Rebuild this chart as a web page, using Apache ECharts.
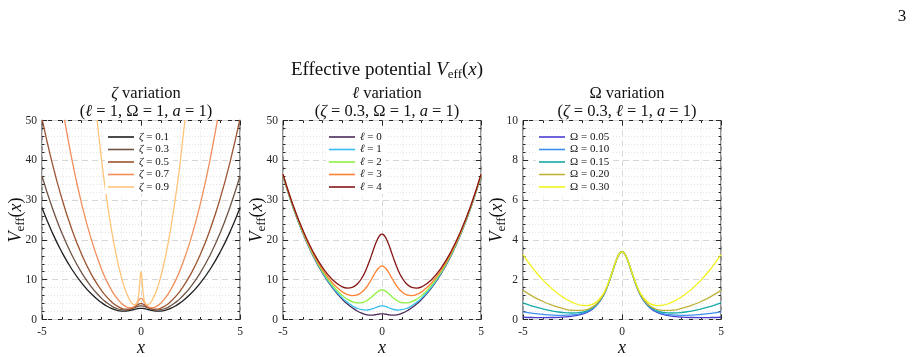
<!DOCTYPE html>
<html>
<head>
<meta charset="utf-8">
<script src="https://cdn.jsdelivr.net/npm/echarts@6/dist/echarts.min.js"></script>
<style>
  html, body { margin: 0; padding: 0; background: #fff; }
  #chart { width: 916px; height: 357px; }
</style>
</head>
<body>
<div id="chart"></div>
<script>
  // x samples shared by every curve
  var xs = [-5,-4.5,-4,-3.5,-3,-2.5,-2,-1.75,-1.5,-1.25,-1,-0.8,-0.6,-0.5,-0.4,-0.3,-0.2,-0.15,-0.1,-0.05,0,
            0.05,0.1,0.15,0.2,0.3,0.4,0.5,0.6,0.8,1,1.25,1.5,1.75,2,2.5,3,3.5,4,4.5,5];

  // panel 1 : zeta variation (l = 1, Omega = 1, a = 1)
  var zetaNames = ['ζ = 0.1', 'ζ = 0.3', 'ζ = 0.5', 'ζ = 0.7', 'ζ = 0.9'];
  var zeta01 = [28.06,22.04,16.95,12.69,9.19,6.39,4.26,3.44,2.80,2.35,2.12,2.09,2.21,2.32,2.45,2.58,2.69,2.74,2.77,2.79,2.80,2.79,2.77,2.74,2.69,2.58,2.45,2.32,2.21,2.09,2.12,2.35,2.80,3.44,4.26,6.39,9.19,12.69,16.95,22.04,28.06];
  var zeta03 = [36.07,28.32,21.76,16.28,11.77,8.15,5.37,4.30,3.44,2.82,2.46,2.38,2.51,2.65,2.83,3.03,3.23,3.31,3.38,3.42,3.43,3.42,3.38,3.31,3.23,3.03,2.83,2.65,2.51,2.38,2.46,2.82,3.44,4.30,5.37,8.15,11.77,16.28,21.76,28.32,36.07];
  var zeta05 = [50.46,39.61,30.42,22.73,16.39,11.28,7.33,5.77,4.50,3.52,2.87,2.61,2.63,2.75,2.96,3.24,3.58,3.74,3.88,3.97,4.00,3.97,3.88,3.74,3.58,3.24,2.96,2.75,2.63,2.61,2.87,3.52,4.50,5.77,7.33,11.28,16.39,22.73,30.42,39.61,50.46];
  var zeta07 = [90.06,70.66,54.24,40.47,29.11,19.93,12.75,9.88,7.48,5.55,4.12,3.36,2.98,2.97,3.10,3.45,4.06,4.47,4.88,5.21,5.33,5.21,4.88,4.47,4.06,3.45,3.10,2.97,2.98,3.36,4.12,5.55,7.48,9.88,12.75,19.93,29.11,40.47,54.24,70.66,90.06];
  var zeta09 = [291.65,228.78,175.51,130.85,93.94,64.01,40.46,30.93,22.82,16.12,10.80,7.54,5.18,4.37,3.83,3.69,4.30,5.25,7.07,10.02,12.00,10.02,7.07,5.25,4.30,3.69,3.83,4.37,5.18,7.54,10.80,16.12,22.82,30.93,40.46,64.01,93.94,130.85,175.51,228.78,291.65];

  // panel 2 : l variation (zeta = 0.3, Omega = 1, a = 1)
  var ellNames = ['ℓ = 0', 'ℓ = 1', 'ℓ = 2', 'ℓ = 3', 'ℓ = 4'];
  var ell0 = [36.02,28.26,21.69,16.18,11.63,7.94,5.06,3.90,2.93,2.14,1.56,1.25,1.10,1.10,1.14,1.22,1.32,1.36,1.40,1.42,1.43,1.42,1.40,1.36,1.32,1.22,1.14,1.10,1.10,1.25,1.56,2.14,2.93,3.90,5.06,7.94,11.63,16.18,21.69,28.26,36.02];
  var ell1 = [36.07,28.32,21.76,16.28,11.77,8.15,5.37,4.30,3.44,2.82,2.46,2.38,2.51,2.65,2.83,3.03,3.23,3.31,3.38,3.42,3.43,3.42,3.38,3.31,3.23,3.03,2.83,2.65,2.51,2.38,2.46,2.82,3.44,4.30,5.37,8.15,11.77,16.28,21.76,28.32,36.07];
  var ell2 = [36.16,28.44,21.92,16.48,12.05,8.56,6.00,5.10,4.47,4.17,4.26,4.64,5.32,5.74,6.20,6.66,7.05,7.21,7.33,7.41,7.43,7.41,7.33,7.21,7.05,6.66,6.20,5.74,5.32,4.64,4.26,4.17,4.47,5.10,6.00,8.56,12.05,16.48,21.92,28.44,36.16];
  var ell3 = [36.30,28.62,22.15,16.79,12.48,9.17,6.94,6.29,6.02,6.21,6.96,8.04,9.53,10.39,11.26,12.09,12.79,13.06,13.26,13.39,13.43,13.39,13.26,13.06,12.79,12.09,11.26,10.39,9.53,8.04,6.96,6.21,6.02,6.29,6.94,9.17,12.48,16.79,22.15,28.62,36.30];
  var ell4 = [36.49,28.85,22.46,17.20,13.04,9.99,8.20,7.89,8.08,8.92,10.57,12.57,15.15,16.58,18.01,19.34,20.44,20.86,21.17,21.37,21.43,21.37,21.17,20.86,20.44,19.34,18.01,16.58,15.15,12.57,10.57,8.92,8.08,7.89,8.20,9.99,13.04,17.20,22.46,28.85,36.49];

  // panel 3 : Omega variation (zeta = 0.3, l = 1, a = 1)
  var omegaNames = ['Ω = 0.05', 'Ω = 0.10', 'Ω = 0.15', 'Ω = 0.20', 'Ω = 0.30'];
  var omega005 = [0.112,0.100,0.095,0.100,0.121,0.169,0.276,0.373,0.520,0.748,1.102,1.510,2.044,2.346,2.654,2.943,3.183,3.275,3.344,3.386,3.400,3.386,3.344,3.275,3.183,2.943,2.654,2.346,2.044,1.510,1.102,0.748,0.520,0.373,0.276,0.169,0.121,0.100,0.095,0.100,0.112];
  var omega010 = [0.382,0.312,0.258,0.221,0.208,0.228,0.314,0.401,0.541,0.762,1.111,1.516,2.047,2.348,2.655,2.944,3.184,3.275,3.344,3.386,3.400,3.386,3.344,3.275,3.184,2.944,2.655,2.348,2.047,1.516,1.111,0.762,0.541,0.401,0.314,0.228,0.208,0.221,0.258,0.312,0.382];
  var omega015 = [0.832,0.665,0.528,0.423,0.352,0.327,0.376,0.448,0.575,0.786,1.126,1.526,2.052,2.352,2.658,2.945,3.184,3.276,3.344,3.386,3.400,3.386,3.344,3.276,3.184,2.945,2.658,2.352,2.052,1.526,1.126,0.786,0.575,0.448,0.376,0.327,0.352,0.423,0.528,0.665,0.832];
  var omega020 = [1.462,1.159,0.907,0.706,0.555,0.465,0.462,0.514,0.623,0.819,1.147,1.539,2.060,2.357,2.661,2.947,3.185,3.276,3.344,3.386,3.400,3.386,3.344,3.276,3.185,2.947,2.661,2.357,2.060,1.539,1.147,0.819,0.623,0.514,0.462,0.465,0.555,0.706,0.907,1.159,1.462];
  var omega030 = [3.262,2.571,1.990,1.513,1.134,0.858,0.710,0.702,0.761,0.914,1.208,1.578,2.082,2.373,2.671,2.952,3.187,3.277,3.345,3.386,3.400,3.386,3.345,3.277,3.187,2.952,2.671,2.373,2.082,1.578,1.208,0.914,0.761,0.702,0.710,0.858,1.134,1.513,1.990,2.571,3.262];

  // axis ranges / tick steps
  var xRange = [-5, 5], xStep = 5;
  var yMax = [50, 50, 10];
  var yStep = [10, 10, 2];

  var FONT = "'Liberation Serif', 'DejaVu Serif', serif";
  var INK = '#262626';

  var panels = [
    { names: zetaNames, data: [zeta01, zeta03, zeta05, zeta07, zeta09],
      colors: ['#1f1f1f', '#6f5445', '#9c5431', '#f28e5c', '#ffc478'],
      left: 42, legendLeft: 105,
      t1: '{i|ζ}{n| variation}', t2: '{n|(}{i|ℓ}{n| = 1, Ω = 1, }{i|a}{n| = 1)}' },
    { names: ellNames, data: [ell0, ell1, ell2, ell3, ell4],
      colors: ['#4b2a5a', '#38bdf0', '#8ff040', '#ff8233', '#851616'],
      left: 283, legendLeft: 326,
      t1: '{i|ℓ}{n| variation}', t2: '{n|(}{i|ζ}{n| = 0.3, Ω = 1, }{i|a}{n| = 1)}' },
    { names: omegaNames, data: [omega005, omega010, omega015, omega020, omega030],
      colors: ['#4a3fd1', '#3f8ff0', '#17aaa8', '#bfb43a', '#f2f21a'],
      left: 523, legendLeft: 536,
      t1: '{n|Ω variation}', t2: '{n|(}{i|ζ}{n| = 0.3, }{i|ℓ}{n| = 1, }{i|a}{n| = 1)}' }
  ];

  var GW = 198, GH = 199, GT = 120.5;

  var richText = function (size) {
    return {
      n: { fontFamily: FONT, fontSize: size, fontWeight: 'normal', color: '#111' },
      i: { fontFamily: FONT, fontSize: size, fontWeight: 'normal', fontStyle: 'italic', color: '#111' },
      s: { fontFamily: FONT, fontSize: Math.round(size * 0.7), fontWeight: 'normal', color: '#111',
           padding: [Math.round(size * 0.45), 0, 0, 0] }
    };
  };

  var grids = [], xAxes = [], yAxes = [], series = [], legends = [];
  var titles = [
    { text: '{n|Effective potential }{i|V}{s|eff}{n|(}{i|x}{n|)}', left: 382, top: 54, textAlign: 'center',
      textStyle: { fontWeight: 'normal', rich: richText(19) } },
    { text: '{n|3}', left: 897, top: 3, textAlign: 'center', textStyle: { fontWeight: 'normal', rich: richText(17) } }
  ];

  panels.forEach(function (p, k) {
    grids.push({ left: p.left, top: GT, width: GW, height: GH, show: true, containLabel: false,
                 outerBoundsMode: 'none',
                 borderColor: INK, borderWidth: 1, backgroundColor: 'transparent' });
    var cx = p.left + GW / 2;
    titles.push({ text: p.t1, left: cx, top: 80, textAlign: 'center',
                  textStyle: { fontWeight: 'normal', rich: richText(16.5) } });
    titles.push({ text: p.t2, left: cx, top: 98, textAlign: 'center',
                  textStyle: { fontWeight: 'normal', rich: richText(16.5) } });

    var tick = { show: true, inside: true, length: 5, lineStyle: { color: INK, width: 1 } };
    var minor = { show: true, splitNumber: 5, length: 2.5, lineStyle: { color: INK, width: 1 } };

    xAxes.push({
      type: 'value', gridIndex: k, min: xRange[0], max: xRange[1], interval: xStep,
      axisLine: { show: false, onZero: false }, axisTick: tick, minorTick: minor,
      axisLabel: { fontFamily: FONT, fontSize: 11.5, color: INK, margin: 6 },
      splitLine: { show: true, lineStyle: { color: '#d6d6d6', type: [6, 4], width: 1 } },
      minorSplitLine: { show: true, lineStyle: { color: '#e4e4e4', type: [1, 2], width: 1 } },
      name: '{i|x}', nameLocation: 'middle', nameGap: 20, nameMoveOverlap: false,
      nameTextStyle: { rich: richText(18) }
    });
    xAxes.push({
      type: 'value', gridIndex: k, position: 'top', min: xRange[0], max: xRange[1], interval: xStep,
      axisLine: { show: false, onZero: false }, axisTick: tick, minorTick: minor,
      axisLabel: { show: false }, splitLine: { show: false }
    });
    yAxes.push({
      type: 'value', gridIndex: k, min: 0, max: yMax[k], interval: yStep[k],
      axisLine: { show: false, onZero: false }, axisTick: tick, minorTick: minor,
      axisLabel: { fontFamily: FONT, fontSize: 11.5, color: INK, margin: 5 },
      splitLine: { show: true, lineStyle: { color: '#d6d6d6', type: [6, 4], width: 1 } },
      minorSplitLine: { show: true, lineStyle: { color: '#e4e4e4', type: [1, 2], width: 1 } },
      name: '{i|V}{s|eff}{n|(}{i|x}{n|)}', nameLocation: 'middle', nameGap: 15, nameRotate: 90,
      nameMoveOverlap: false,
      nameTextStyle: { rich: richText(18) }
    });
    yAxes.push({
      type: 'value', gridIndex: k, position: 'right', min: 0, max: yMax[k], interval: yStep[k],
      axisLine: { show: false, onZero: false }, axisTick: tick, minorTick: minor,
      axisLabel: { show: false }, splitLine: { show: false }
    });

    p.names.forEach(function (nm, j) {
      var vals = p.data[j];
      series.push({
        name: nm, type: 'line', xAxisIndex: 2 * k, yAxisIndex: 2 * k,
        data: xs.map(function (x, i) { return [x, vals[i]]; }),
        symbol: 'none', smooth: 0.5, clip: true,
        lineStyle: { color: p.colors[j], width: 1.3 }, itemStyle: { color: p.colors[j] }
      });
    });

    legends.push({
      data: p.names, orient: 'vertical', left: p.legendLeft, top: 130,
      icon: 'rect', itemWidth: 26, itemHeight: 1.6, itemGap: 0.5, padding: [1, 4, 1, 3],
      backgroundColor: '#fff', selectedMode: false,
      formatter: function (nm) {
        var head = nm.split(' = ')[0], tail = nm.split(' = ')[1];
        return (head === 'Ω' ? '{n|Ω}' : '{i|' + head + '}') + '{n| = ' + tail + '}';
      },
      textStyle: { fontFamily: FONT, fontSize: 11, lineHeight: 12, color: '#111',
        rich: { n: { fontFamily: FONT, fontSize: 11, color: '#111' },
                i: { fontFamily: FONT, fontSize: 11, fontStyle: 'italic', color: '#111' } } }
    });
  });

  var chart = echarts.init(document.getElementById('chart'), null, { renderer: 'canvas' });
  chart.setOption({
    animation: false,
    backgroundColor: '#fff',
    title: titles,
    grid: grids,
    xAxis: xAxes,
    yAxis: yAxes,
    legend: legends,
    series: series
  });
</script>
</body>
</html>
